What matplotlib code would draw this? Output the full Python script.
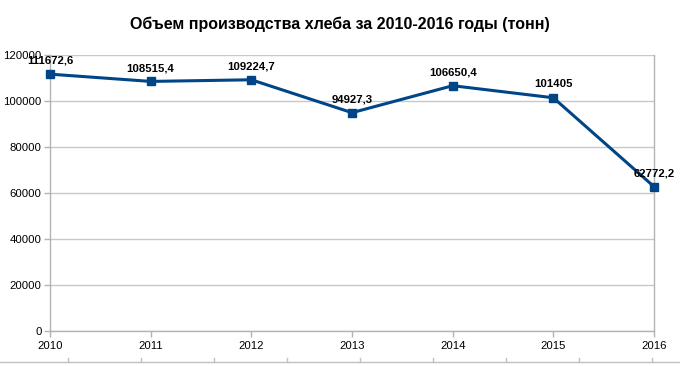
import matplotlib
matplotlib.use("Agg")
import matplotlib.pyplot as plt
from matplotlib.lines import Line2D

years = [2010, 2011, 2012, 2013, 2014, 2015, 2016]
values = [111672.6, 108515.4, 109224.7, 94927.3, 106650.4, 101405, 62772.2]
labels = ["111672,6", "108515,4", "109224,7", "94927,3", "106650,4", "101405", "62772,2"]
yticks = [0, 20000, 40000, 60000, 80000, 100000, 120000]
title = "Объем производства хлеба за 2010-2016 годы (тонн)"

plt.rcParams['font.family'] = ['Liberation Sans', 'DejaVu Sans']

fig = plt.figure(figsize=(6.8, 3.66), dpi=100)
ax = fig.add_axes([50/680, 1-331/366, (654-50)/680, (331-55)/366])

grid_c = "#c8c8c8"
ax.plot(years, values, color="#004586", lw=2.2, marker="s", ms=6.4, zorder=3, clip_on=False)
for x, y, t in zip(years, values, labels):
    ax.annotate(t, (x, y), xytext=(0, 6), textcoords="offset points",
                ha="center", va="bottom", fontsize=8.2, fontweight="bold", color="black")

ax.set_xlim(2010, 2016)
ax.set_ylim(0, 120000)
ax.set_xticks(years)
ax.set_yticks(yticks)
ax.set_xticklabels([str(y) for y in years])
ax.set_yticklabels([str(v) for v in yticks])
ax.yaxis.grid(True, color=grid_c, lw=1)
ax.set_axisbelow(True)
ax.spines["top"].set_visible(False)
for s in ["left", "bottom", "right"]:
    ax.spines[s].set_color("#b3b3b3")
    ax.spines[s].set_linewidth(1)
ax.tick_params(axis="both", colors="#b3b3b3", length=4, width=1, labelsize=8.2, labelcolor="black")
ax.tick_params(axis="x", pad=3)
ax.tick_params(axis="y", pad=2)

fig.suptitle(title, x=0.5, y=1-24/366, va="center", fontsize=11.5, fontweight="bold")

# spreadsheet ruler at bottom
yl = 1 - 362/366
fig.add_artist(Line2D([0, 1], [yl, yl], transform=fig.transFigure, color="#c0c0c0", lw=1))
for px in [68, 141, 214, 287, 360, 433, 506, 579, 652]:
    fig.add_artist(Line2D([px/680, px/680], [yl, yl + 4/366], transform=fig.transFigure, color="#c0c0c0", lw=1))

fig.savefig("out.png", dpi=100)
